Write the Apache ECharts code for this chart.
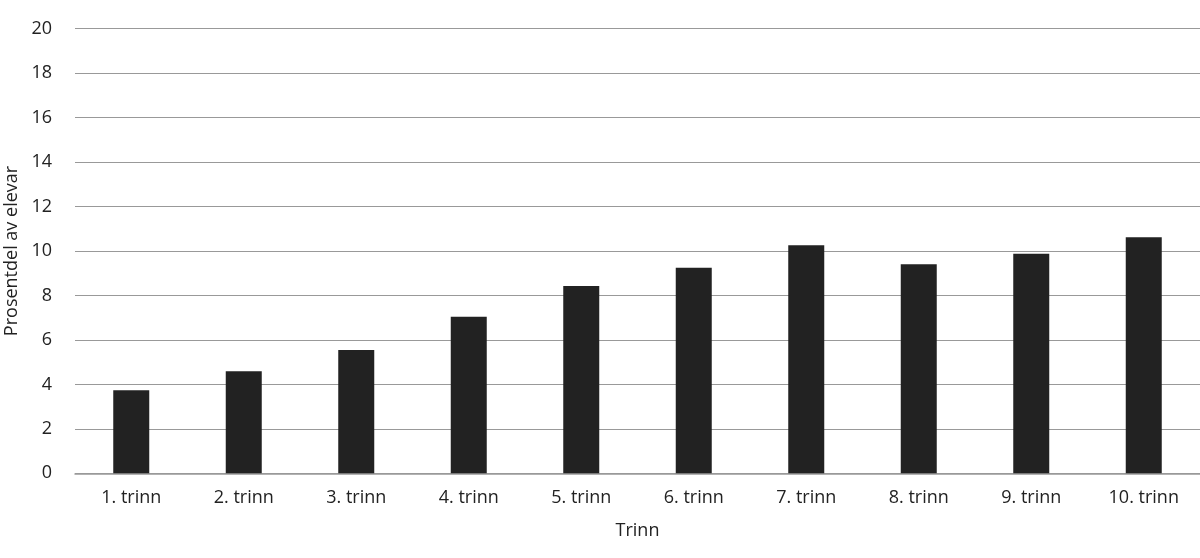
<!DOCTYPE html>
<html>
<head>
<meta charset="utf-8">
<script src="https://cdn.jsdelivr.net/npm/echarts@6/dist/echarts.min.js"></script>
<style>
  html, body { margin: 0; padding: 0; background: #fff; }
  #chart { width: 1200px; height: 558px; }
</style>
</head>
<body>
<div id="chart"></div>
<script>
const categories = ['1. trinn', '2. trinn', '3. trinn', '4. trinn', '5. trinn',
                    '6. trinn', '7. trinn', '8. trinn', '9. trinn', '10. trinn'];
const values = [3.74, 4.59, 5.55, 7.04, 8.43, 9.25, 10.26, 9.4, 9.88, 10.62];

const font = '"Open Sans", "Noto Sans", sans-serif';

let chart = echarts.init(document.getElementById('chart'));
chart.setOption({
    animation: false,
    grid: { left: 75, right: 0, top: 28.7, bottom: 84.7, containLabel: false, outerBoundsMode: 'none' },
    xAxis: {
        type: 'category',
        data: categories,
        name: 'Trinn',
        nameLocation: 'middle',
        nameGap: 49,
        nameTextStyle: { color: '#222', fontSize: 18, fontFamily: font },
        axisLine: { lineStyle: { color: '#999', width: 1.5 } },
        axisTick: { show: false },
        axisLabel: { color: '#222', fontSize: 18, fontFamily: font, margin: 16 }
    },
    yAxis: {
        type: 'value',
        min: 0,
        max: 20,
        interval: 2,
        name: 'Prosentdel av elevar',
        nameLocation: 'middle',
        nameGap: 53,
        nameTextStyle: { color: '#222', fontSize: 18, fontFamily: font },
        axisLine: { show: false },
        axisTick: { show: false },
        axisLabel: { color: '#222', fontSize: 18, fontFamily: font, margin: 23 },
        splitLine: { lineStyle: { color: '#999', width: 1.2 } }
    },
    series: [{
        type: 'bar',
        data: values,
        barWidth: '32%',
        itemStyle: { color: '#222' }
    }]
});
</script>
</body>
</html>
